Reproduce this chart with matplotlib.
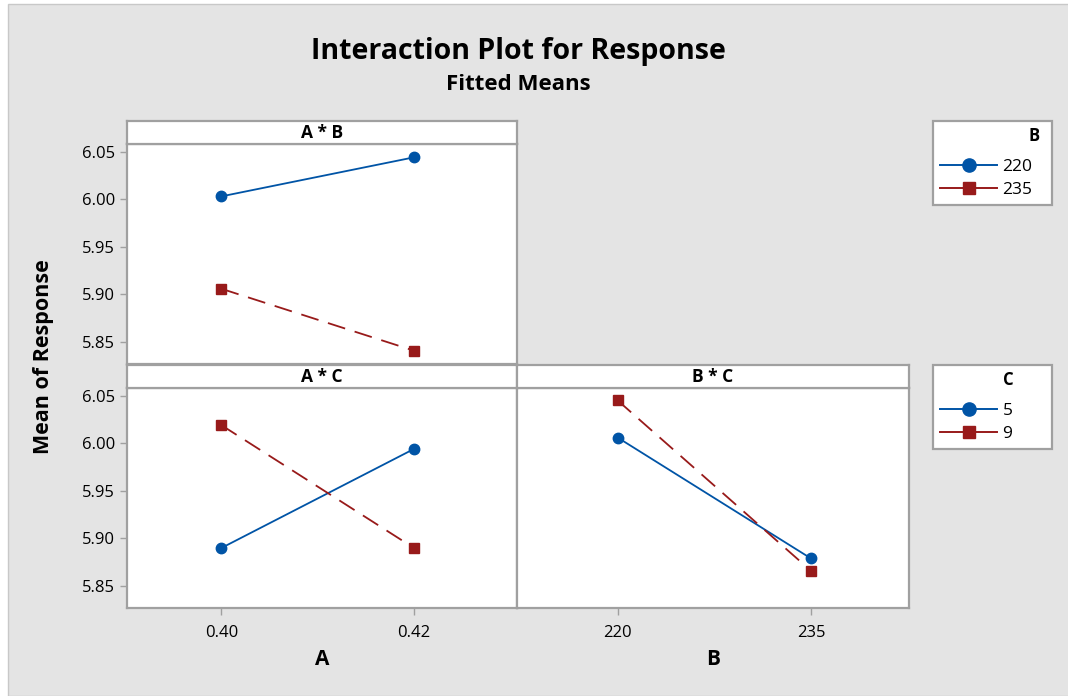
import matplotlib.pyplot as plt
from matplotlib.lines import Line2D
from matplotlib.patches import Rectangle

plt.rcParams['font.family'] = ['Open Sans', 'DejaVu Sans']

# data
a_levels = [0.40, 0.42]
b_levels = [220, 235]
ab_b220 = [6.003, 6.044]
ab_b235 = [5.906, 5.841]
ac_c5 = [5.890, 5.994]
ac_c9 = [6.019, 5.890]
bc_c5 = [6.006, 5.879]
bc_c9 = [6.045, 5.866]
y_ticks = [5.85, 5.90, 5.95, 6.00, 6.05]

blue = '#0054a6'
red = '#981a1a'
frame = '#a0a0a0'
bg = '#e4e4e4'

W, H = 1068, 696
fig = plt.figure(figsize=(W / 100, H / 100), dpi=100, facecolor='white')
fig.patches.append(Rectangle((8 / W, 0), 1, 1 - 4 / H, transform=fig.transFigure,
                             facecolor=bg, edgecolor='#c8c8c8', lw=1, zorder=-10))


def box(x0, y0, x1, y1):
    # pixel box -> figure fraction rect
    return [x0 / W, 1 - y1 / H, (x1 - x0) / W, (y1 - y0) / H]


def style(ax):
    for s in ax.spines.values():
        s.set_color(frame)
        s.set_linewidth(1.6)
    ax.tick_params(colors=frame, labelcolor='black', labelsize=12, length=5, width=1)


def strip(x0, x1, y0, label):
    s = fig.add_axes(box(x0, y0, x1, y0 + 23))
    s.set_xticks([])
    s.set_yticks([])
    for sp in s.spines.values():
        sp.set_color(frame)
        sp.set_linewidth(1.6)
    s.text(0.5, 0.5, label, ha='center', va='center', fontsize=12.5, fontweight='bold',
           transform=s.transAxes)


def draw(ax, x, s1, s2):
    ax.plot(x, s1, color=blue, lw=1.3, marker='o', ms=7.5, mec=blue, mfc=blue)
    ax.plot(x, s2, color=red, lw=1.3, marker='s', ms=7, mec=red, mfc=red,
            dashes=(10, 5.5))


ylim = (5.827, 6.058)

ax1 = fig.add_axes(box(127, 144, 517, 364))
ax2 = fig.add_axes(box(127, 388, 517, 608))
ax3 = fig.add_axes(box(517, 388, 909, 608))

draw(ax1, a_levels, ab_b220, ab_b235)
draw(ax2, a_levels, ac_c5, ac_c9)
draw(ax3, b_levels, bc_c5, bc_c9)

for ax in (ax1, ax2, ax3):
    style(ax)
    ax.set_ylim(*ylim)
for ax in (ax1, ax2):
    ax.set_xlim(0.3902, 0.4307)
    ax.set_yticks(y_ticks)
    ax.set_yticklabels([f'{v:.2f}' for v in y_ticks])
ax3.set_xlim(212.2, 242.6)
ax3.set_yticks([])
ax1.set_xticks([])
ax2.set_xticks(a_levels)
ax2.set_xticklabels(['0.40', '0.42'])
ax3.set_xticks(b_levels)
ax3.set_xticklabels(['220', '235'])
ax2.tick_params(axis='x', pad=7)
ax3.tick_params(axis='x', pad=7)
ax2.set_xlabel('A', fontsize=15, fontweight='bold', labelpad=6)
ax3.set_xlabel('B', fontsize=15, fontweight='bold', labelpad=6)

strip(127, 517, 121, 'A * B')
strip(127, 517, 365, 'A * C')
strip(517, 909, 365, 'B * C')

fig.text(518 / W, 1 - 51 / H, 'Interaction Plot for Response', ha='center', va='center',
         fontsize=20.5, fontweight='bold')
fig.text(518 / W, 1 - 85 / H, 'Fitted Means', ha='center', va='center',
         fontsize=16, fontweight='bold')
fig.text(44 / W, 1 - 357 / H, 'Mean of Response', ha='center', va='center',
         rotation=90, fontsize=15.5, fontweight='bold')


def legend(y0, labels):
    handles = [
        Line2D([], [], color=blue, lw=1.4, marker='o', ms=9.5, mec=blue, mfc=blue),
        Line2D([], [], color=red, lw=1.4, marker='s', ms=9, mec=red, mfc=red),
    ]
    leg = fig.legend(handles, labels, loc='upper left',
                     bbox_to_anchor=(933 / W, 1 - y0 / H - 0.01, 119 / W, 0.01),
                     mode='expand', borderaxespad=0, title=' ', title_fontsize=17,
                     fontsize=12.5, frameon=True, fancybox=False, framealpha=1,
                     facecolor='white', handlelength=3.3, handletextpad=0.3,
                     labelspacing=0.41, borderpad=0.4)
    leg.get_frame().set_edgecolor(frame)
    leg.get_frame().set_linewidth(1.6)
    return leg


legend(121, ['220', '235'])
fig.text(1034 / W, 1 - 136 / H, 'B', ha='center', va='center', fontsize=12,
         fontweight='bold', zorder=10)
legend(365, ['5', '9'])
fig.text(1008 / W, 1 - 380 / H, 'C', ha='center', va='center', fontsize=12,
         fontweight='bold', zorder=10)

fig.savefig('out.png', dpi=100, facecolor=fig.get_facecolor())
